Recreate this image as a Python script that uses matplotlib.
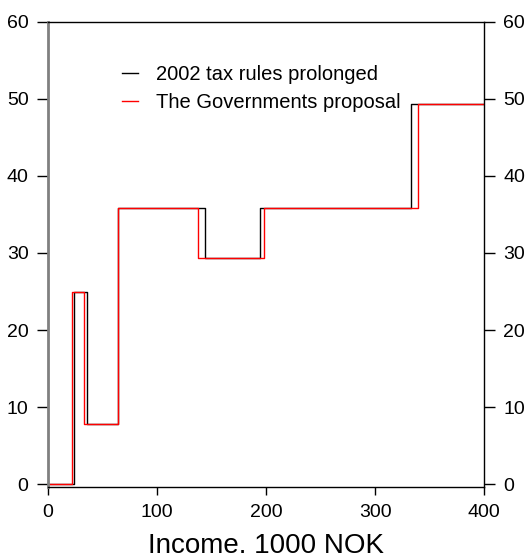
import matplotlib
matplotlib.use("Agg")
import matplotlib.pyplot as plt

plt.rcParams['font.family'] = ['Liberation Sans', 'DejaVu Sans']

# Marginal tax rate (%) by income (1000 NOK), step breakpoints
income_2002 = [0, 24, 35.5, 64, 144, 194.5, 333, 400]
rate_2002 = [0, 25, 7.8, 35.8, 29.3, 35.8, 49.3, 49.3]

income_prop = [0, 22, 33.3, 64, 138, 198.5, 339, 400]
rate_prop = [0, 25, 7.8, 35.8, 29.3, 35.8, 49.3, 49.3]

xticks = [0, 100, 200, 300, 400]
yticks = [0, 10, 20, 30, 40, 50, 60]

fig = plt.figure(figsize=(5.25, 5.6), dpi=100)
ax = fig.add_axes([0.0914, 0.130, 0.8306, 0.831])

ax.step(income_2002, rate_2002, where='post', color='black', lw=1.0,
        label='2002 tax rules prolonged')
ax.step(income_prop, rate_prop, where='post', color='red', lw=1.0,
        label='The Governments proposal')

ax.set_xlim(0, 400)
ax.set_ylim(-0.4, 60)
ax.set_xticks(xticks)
ax.set_yticks(yticks)

ax.spines['left'].set_color('#808080')
ax.spines['left'].set_linewidth(2)
ax.spines['bottom'].set_linewidth(1)
ax.spines['top'].set_linewidth(1)
ax.spines['right'].set_linewidth(1)

ax.tick_params(axis='y', which='both', left=True, right=True,
               labelleft=True, labelright=True, direction='out',
               length=8, width=1, pad=6, labelsize=14)
ax.tick_params(axis='x', direction='out', length=6, width=1, pad=6,
               labelsize=14)

ax.set_xlabel("Income. 1000 NOK", fontsize=20, labelpad=9)

ax.legend(loc='upper left', bbox_to_anchor=(0.17, 0.908), frameon=False,
          fontsize=14.5, handlelength=0.8, handletextpad=0.9,
          borderaxespad=0, borderpad=0, labelspacing=0.45)

fig.savefig("out.png", dpi=100)
